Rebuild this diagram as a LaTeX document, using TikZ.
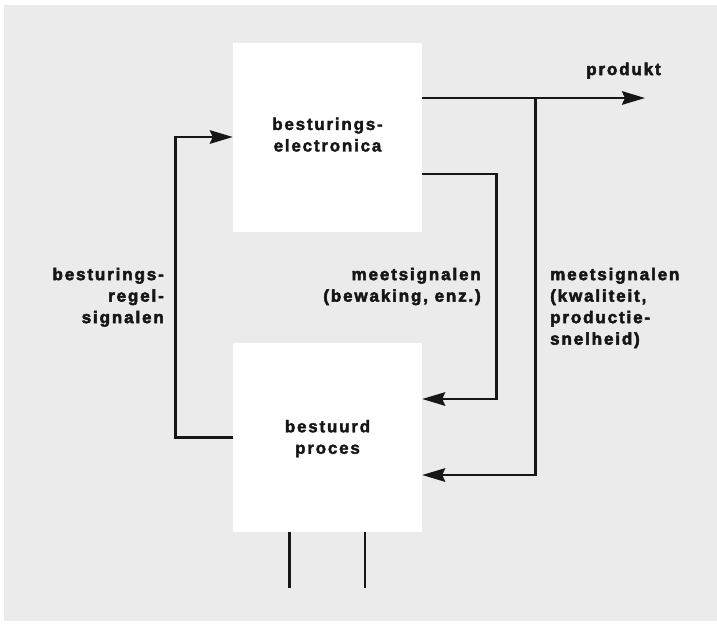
\documentclass[tikz,border=0pt]{standalone}
\usepackage{fontspec}
\setmainfont{Liberation Sans}
\newfontfamily\labfont[LetterSpace=11,FakeBold=3]{Liberation Sans Bold}
\newfontfamily\boxfont[LetterSpace=10.5,FakeBold=2]{Liberation Sans Bold}
\usetikzlibrary{arrows.meta}
\definecolor{bggray}{RGB}{235,235,235}
\definecolor{ink}{RGB}{22,22,22}
\begin{document}
\begin{tikzpicture}[x=1pt,y=-1pt,
  boxnode/.style={fill=white,draw=none,minimum width=189pt,minimum height=189pt,inner sep=0pt,align=center,
    font=\boxfont\fontsize{17}{21.5}\selectfont,text=ink},
  lab/.style={inner sep=0pt,font=\labfont\fontsize{17}{21.5}\selectfont,text=ink},
  wire/.style={draw=ink,line width=2.4pt},
  arr/.style={wire,-{Stealth[length=23pt,width=13.5pt,inset=3pt]}}]
\fill[white] (0,0) rectangle (717,627);
\fill[bggray] (4,5) rectangle (717,621);
\useasboundingbox (0,0) rectangle (717,627);
\node[boxnode] (tb) at (327.5,137) {besturings-\\electronica\rule[-4.9pt]{0pt}{0pt}};
\node[boxnode] (bb) at (327.5,437.5) {\rule{0pt}{14.6pt}bestuurd\\proces};
\coordinate (prodEnd) at (645,98);
\coordinate (jn) at (535.5,98);
\coordinate (c1) at (496.5,174);
\coordinate (c2) at (496.5,399);
\coordinate (cl) at (175.5,287);
\coordinate (l1) at (289.5,588);
\coordinate (l2) at (365,588);
\draw[arr] (tb.east |- prodEnd) -- (prodEnd);
\draw[arr] (jn) |- ([yshift=-37.5pt]bb.east);
\draw[arr] ([yshift=-37pt]tb.east) -- (c1) -- (c2) -- ([yshift=38.5pt]bb.east);
\draw[arr] (bb.west) -| (cl) |- (tb.west);
\draw[wire] (l1 |- bb.south) -- (l1);
\draw[wire] (l2 |- bb.south) -- (l2);
\node[lab,anchor=base] (prod) at (623.5,75) {produkt};
\node[lab,anchor=north east,align=right] (lbl1) at (164,267.6) {besturings-\\regel-\\signalen};
\node[lab,anchor=north east,align=right] (lbl2) at (481,267.6) {meetsignalen\\(bewaking, enz.)};
\node[lab,anchor=north west,align=left] (lbl3) at (550,267.6) {meetsignalen\\(kwaliteit,\\productie-\\snelheid)};
\end{tikzpicture}
\end{document}
